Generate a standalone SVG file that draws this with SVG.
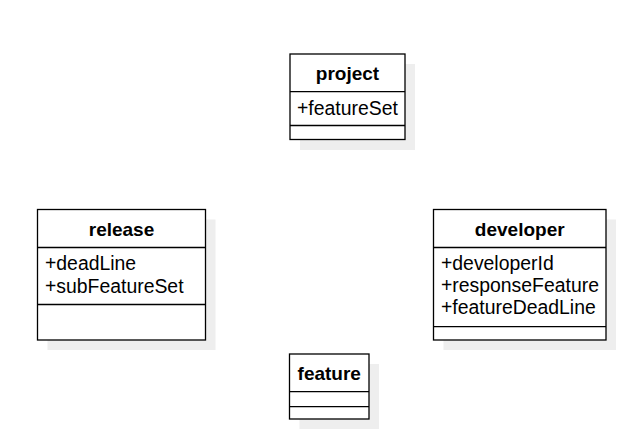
<svg xmlns="http://www.w3.org/2000/svg" width="642" height="441" viewBox="0 0 642 441">
<style>
.shadow{fill:#eeeeee;stroke:none}
.box{fill:#ffffff;stroke:#000000;stroke-width:1.3}
.sep{stroke:#000000;stroke-width:1.3}
.title{font-family:"Liberation Sans",Arial,sans-serif;font-size:19px;font-weight:bold;text-anchor:middle;fill:#000000}
.attr{font-family:"Liberation Sans",Arial,sans-serif;font-size:19.4px;fill:#000000}
</style>
<rect width="642" height="441" fill="#ffffff"/>
<g id="project">
<rect class="shadow" x="300" y="64" width="115" height="86"/>
<rect class="box" x="290" y="54" width="115" height="85.5"/>
<line class="sep" x1="290" y1="91.7" x2="405" y2="91.7"/>
<line class="sep" x1="290" y1="125.5" x2="405" y2="125.5"/>
<text class="title" x="347.5" y="80">project</text>
<text class="attr" x="297" y="115">+featureSet</text>
</g>
<g id="release">
<rect class="shadow" x="47.5" y="219.5" width="168" height="130.5"/>
<rect class="box" x="37.5" y="209.5" width="168" height="130.5"/>
<line class="sep" x1="37.5" y1="247.5" x2="205.5" y2="247.5"/>
<line class="sep" x1="37.5" y1="304.5" x2="205.5" y2="304.5"/>
<text class="title" x="121.5" y="235.5">release</text>
<text class="attr" x="45" y="270">+deadLine</text>
<text class="attr" x="45" y="292.5">+subFeatureSet</text>
</g>
<g id="developer">
<rect class="shadow" x="443.5" y="219.5" width="172.5" height="130.5"/>
<rect class="box" x="433.5" y="209.5" width="172.5" height="130.5"/>
<line class="sep" x1="433.5" y1="247.5" x2="606" y2="247.5"/>
<line class="sep" x1="433.5" y1="326.7" x2="606" y2="326.7"/>
<text class="title" x="519.75" y="235.5">developer</text>
<text class="attr" x="441" y="270">+developerId</text>
<text class="attr" x="441" y="292">+responseFeature</text>
<text class="attr" x="441" y="314">+featureDeadLine</text>
</g>
<g id="feature">
<rect class="shadow" x="299.5" y="364" width="79.5" height="65"/>
<rect class="box" x="289.5" y="354" width="79.5" height="65"/>
<line class="sep" x1="289.5" y1="391.7" x2="369" y2="391.7"/>
<line class="sep" x1="289.5" y1="406.7" x2="369" y2="406.7"/>
<text class="title" x="329.25" y="380">feature</text>
</g>
<g id="connectors"/>
</svg>
